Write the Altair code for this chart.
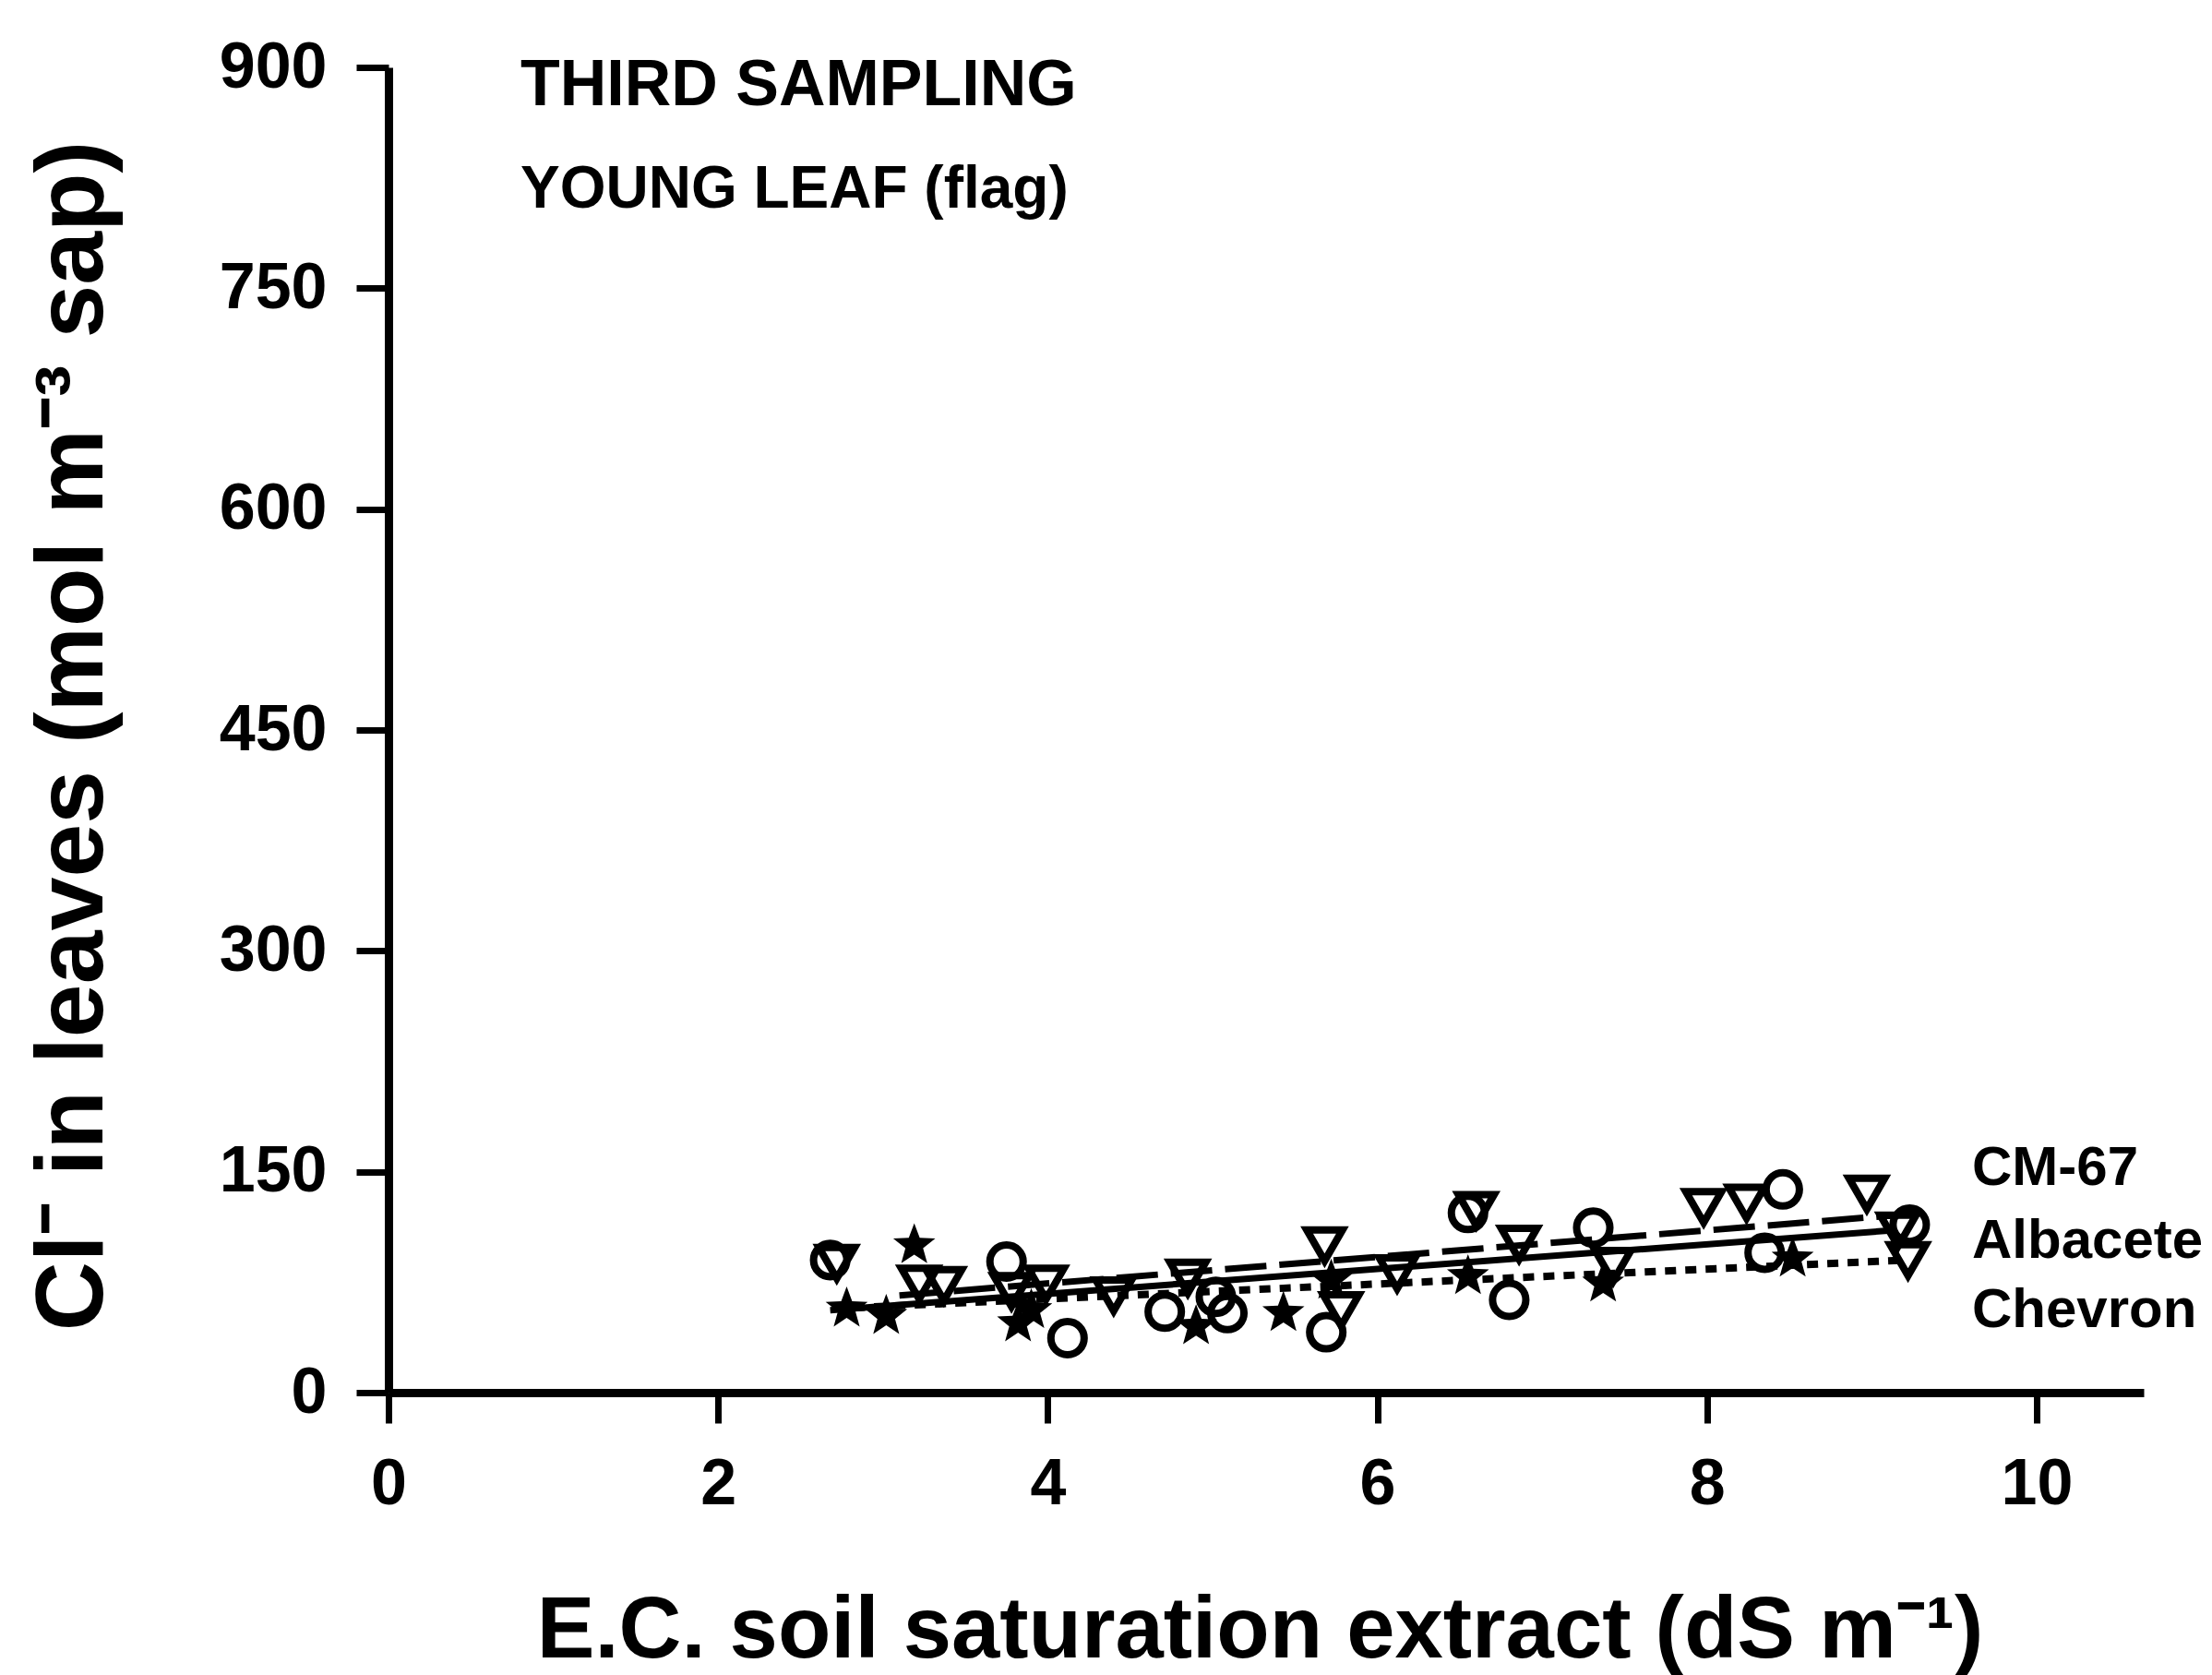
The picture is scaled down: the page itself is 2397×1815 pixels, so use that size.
import altair as alt
import pandas as pd

# ---- data ----
cm67_x = [2.72, 3.22, 3.37, 3.78, 3.99, 4.40, 4.85, 5.68, 5.78, 6.12, 6.60, 6.86, 7.43, 7.98, 8.24, 8.97, 9.16, 9.22]
cm67_y = [88, 74, 73, 69, 74, 66, 78, 100, 56, 81, 124, 101, 86, 126, 129, 135, 110, 90]

alb_x = [2.68, 3.75, 4.12, 4.71, 5.02, 5.09, 5.69, 6.55, 6.80, 7.31, 8.35, 8.46, 9.23]
alb_y = [90, 89, 37, 55, 65, 54, 41, 122, 63, 112, 95, 138, 114]

chev_x = [2.78, 3.02, 3.19, 3.82, 3.90, 4.90, 5.43, 5.72, 6.55, 7.37, 8.52]
chev_y = [57, 52, 100, 47, 56, 45, 54, 76, 79, 74, 91]

# fitted lines (end points)
fit_cm67_x = [3.1, 9.2]
fit_cm67_y = [66, 121]
fit_alb_x = [2.68, 9.1]
fit_alb_y = [56, 110]
fit_chev_x = [2.7, 9.2]
fit_chev_y = [57, 90]

series_names = ["CM-67", "Albacete", "Chevron"]
x_ticks = [0, 2, 4, 6, 8, 10]
y_ticks = [0, 150, 300, 450, 600, 750, 900]
annot = ["THIRD SAMPLING", "YOUNG LEAF (flag)"]

FONT = "Liberation Sans"
STAR = ("M0,-1L0.247,-0.34L0.951,-0.309L0.399,0.13L0.588,0.809L0,0.42"
        "L-0.588,0.809L-0.399,0.13L-0.951,-0.309L-0.247,-0.34Z")

W, H = 1902, 1436
xs = alt.Scale(domain=[0, 10.65], nice=False, zero=False)
ys = alt.Scale(domain=[0, 900], nice=False)

xax = alt.Axis(orient="bottom", values=x_ticks, format="d", grid=False,
               domainColor="black", domainWidth=9,
               tickColor="black", tickWidth=7, tickSize=33, labelPadding=32,
               labelFont=FONT, labelFontSize=70, labelFontWeight="bold", labelColor="black",
               title="E.C. soil saturation extract (dS m\u207b\u00b9)",
               titleFont=FONT, titleFontSize=94, titleFontWeight="bold", titleColor="black",
               titleAnchor="start", titleAlign="center", titleBaseline="middle",
               titleX=944, titleY=258, labelFlush=False)
yax = alt.Axis(orient="left", values=y_ticks, format="d", grid=False,
               domainColor="black", domainWidth=9,
               tickColor="black", tickWidth=7, tickSize=35, labelPadding=32,
               labelFont=FONT, labelFontSize=70, labelFontWeight="bold", labelColor="black",
               title="Cl\u207b in leaves (mol m\u207b\u00b3 sap)",
               titleFont=FONT, titleFontSize=104, titleFontWeight="bold", titleColor="black",
               titleAnchor="start", titleAlign="center", titleBaseline="middle", titleAngle=270,
               titleX=-342, titleY=724, labelFlush=False)

X = alt.X("x:Q", scale=xs, axis=xax)
Y = alt.Y("y:Q", scale=ys, axis=yax)


def pts(xv, yv, name):
    return pd.DataFrame({"x": xv, "y": yv, "series": [name] * len(xv)})


d_cm = pts(cm67_x, cm67_y, series_names[0])
d_al = pts(alb_x, alb_y, series_names[1])
d_ch = pts(chev_x, chev_y, series_names[2])

line_cm = alt.Chart(pts(fit_cm67_x, fit_cm67_y, series_names[0])).mark_line(
    color="black", strokeWidth=7, strokeDash=[45, 14]).encode(x=X, y=Y)
line_al = alt.Chart(pts(fit_alb_x, fit_alb_y, series_names[1])).mark_line(
    color="black", strokeWidth=7).encode(x=X, y=Y)
line_ch = alt.Chart(pts(fit_chev_x, fit_chev_y, series_names[2])).mark_line(
    color="black", strokeWidth=8, strokeDash=[12, 10]).encode(x=X, y=Y)

p_cm = alt.Chart(d_cm).mark_point(shape="triangle-down", size=1500, filled=False,
                                  color="black", strokeWidth=8, opacity=1).encode(x=X, y=Y)
p_al = alt.Chart(d_al).mark_point(shape="circle", size=1300, filled=False,
                                  color="black", strokeWidth=8, opacity=1).encode(x=X, y=Y)
p_ch = alt.Chart(d_ch).mark_point(shape=STAR, size=2300, filled=True,
                                  color="black", opacity=1).encode(x=X, y=Y)

layers = [line_ch, line_al, line_cm, p_al, p_cm, p_ch]

# annotations in the upper left
for txt, yy, fs in [(annot[0], 20, 70), (annot[1], 133, 64)]:
    layers.append(alt.Chart(pd.DataFrame({"t": [txt]})).mark_text(
        align="left", baseline="middle", font=FONT, fontSize=fs, fontWeight="bold",
        color="black").encode(text="t:N", x=alt.value(143), y=alt.value(yy)))

# series labels at the right end of the lines
for name, yy in zip(series_names, [1193, 1272, 1347]):
    layers.append(alt.Chart(pd.DataFrame({"t": [name]})).mark_text(
        align="left", baseline="middle", font=FONT, fontSize=60, fontWeight="bold",
        color="black").encode(text="t:N", x=alt.value(1716), y=alt.value(yy)))

chart = alt.layer(*layers).properties(
    width=W, height=H,
    autosize=alt.AutoSizeParams(type="none"),
    padding={"left": 421, "top": 73, "right": 74, "bottom": 306},
    background="white",
).configure_view(stroke=None)

chart.save("out.html", embed_options={"renderer": "svg", "actions": False})
